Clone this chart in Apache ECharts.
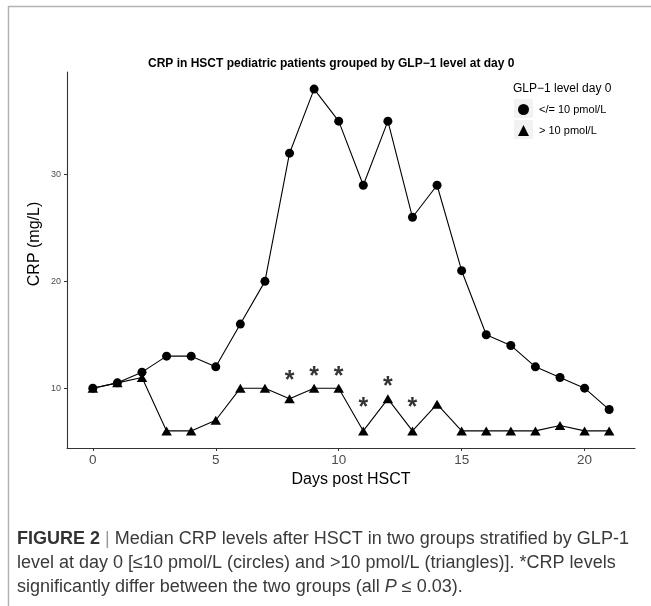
<!DOCTYPE html>
<html>
<head>
<meta charset="utf-8">
<script src="https://cdn.jsdelivr.net/npm/echarts@6/dist/echarts.min.js"></script>
<style>
html, body { margin: 0; padding: 0; background: #fff; }
#main { width: 651px; height: 606px; }
</style>
</head>
<body>
<div id="main"></div>
<script>
// data
var days = [0, 1, 2, 3, 4, 5, 6, 7, 8, 9, 10, 11, 12, 13, 14, 15, 16, 17, 18, 19, 20, 21];
var crpLow = [10, 10.5, 11.5, 13, 13, 12, 16, 20, 32, 38, 35, 29, 35, 26, 29, 21, 15, 14, 12, 11, 10, 8];
var crpHigh = [10, 10.5, 11, 6, 6, 7, 10, 10, 9, 10, 10, 6, 9, 6, 8.5, 6, 6, 6, 6, 6.5, 6, 6];
var starDays = [8, 9, 10, 11, 12, 13];
var starLevels = [11.1, 11.5, 11.5, 8.6, 10.55, 8.6];
var xTicks = [0, 5, 10, 15, 20];
var yTicks = [10, 20, 30];
var groupNames = ['</= 10 pmol/L', '> 10 pmol/L'];

var font = 'Liberation Sans, Arial, sans-serif';
var capSize = 18;

function pairs(xs, ys) {
    return xs.map(function (x, i) { return [x, ys[i]]; });
}

var dom = document.getElementById('main');
var myChart = echarts.init(dom);
var option = {
    animation: false,
    backgroundColor: '#fff',
    textStyle: { fontFamily: font },
    title: {
        text: 'CRP in HSCT pediatric patients grouped by GLP\u22121 level at day 0',
        left: 143,
        top: 53,
        textStyle: { fontSize: 12, fontWeight: 'bold', color: '#000', fontFamily: font }
    },
    grid: { left: 67, right: 16, top: 72, bottom: 158 },
    legend: {
        orient: 'vertical',
        left: 513,
        top: 99,
        itemWidth: 11,
        itemHeight: 11,
        itemGap: 10,
        data: [
            { name: groupNames[0], icon: 'circle' },
            { name: groupNames[1], icon: 'triangle' }
        ],
        textStyle: { fontSize: 11, color: '#000', lineHeight: 11, padding: [0, 0, 0, 5] }
    },
    xAxis: {
        type: 'value',
        min: -1.05,
        max: 22.05,
        name: 'Days post HSCT',
        nameLocation: 'middle',
        nameGap: 20,
        nameTextStyle: { fontSize: 16, color: '#000' },
        axisLine: { onZero: false, lineStyle: { color: '#333', width: 1.1 } },
        axisTick: { customValues: xTicks, length: 3, lineStyle: { color: '#333' } },
        axisLabel: { customValues: xTicks, fontSize: 13.5, color: '#4d4d4d', margin: 5 },
        splitLine: { show: false }
    },
    yAxis: {
        type: 'value',
        min: 4.4,
        max: 39.6,
        axisLine: { show: true, onZero: false, lineStyle: { color: '#333', width: 1.1 } },
        axisTick: { show: true, customValues: yTicks, length: 3, lineStyle: { color: '#333' } },
        axisLabel: { customValues: yTicks, fontSize: 9, color: '#4d4d4d', margin: 6 },
        splitLine: { show: false }
    },
    series: [
        {
            name: groupNames[0],
            type: 'line',
            data: pairs(days, crpLow),
            symbol: 'circle',
            symbolSize: 9,
            showAllSymbol: true,
            itemStyle: { color: '#000' },
            lineStyle: { color: '#000', width: 1.1 }
        },
        {
            name: groupNames[1],
            type: 'line',
            data: pairs(days, crpHigh),
            symbol: 'triangle',
            symbolSize: [10.5, 9],
            showAllSymbol: true,
            itemStyle: { color: '#000' },
            lineStyle: { color: '#000', width: 1.1 }
        },
        {
            name: 'significant',
            type: 'scatter',
            data: pairs(starDays, starLevels),
            symbolSize: 1,
            itemStyle: { color: 'rgba(0,0,0,0)' },
            label: {
                show: true,
                position: 'inside',
                formatter: '*',
                fontSize: 25,
                fontWeight: 'bold',
                color: '#000',
                offset: [0, 5]
            }
        }
    ],
    graphic: [
        // figure frame
        { type: 'line', shape: { x1: 8.5, y1: 6, x2: 8.5, y2: 606 }, style: { stroke: '#b3b3b3', lineWidth: 1.5 } },
        { type: 'line', shape: { x1: 8, y1: 6.5, x2: 651, y2: 6.5 }, style: { stroke: '#b3b3b3', lineWidth: 1.5 } },
        // y axis title
        {
            type: 'text', x: 35, y: 244, rotation: Math.PI / 2,
            style: { text: 'CRP (mg/L)', fontSize: 16, fontFamily: font, fill: '#000', align: 'center', verticalAlign: 'middle' }
        },
        // legend title and key boxes
        {
            type: 'text', x: 513, y: 89,
            style: { text: 'GLP\u22121 level day 0', fontSize: 12, fontFamily: font, fill: '#000', verticalAlign: 'middle' }
        },
        { type: 'rect', z: -1, shape: { x: 514, y: 99, width: 19, height: 19 }, style: { fill: '#f2f2f2' } },
        { type: 'rect', z: -1, shape: { x: 514, y: 120, width: 19, height: 19 }, style: { fill: '#f2f2f2' } },
        // caption
        {
            type: 'text', x: 17, y: 539,
            style: {
                text: '{b|FIGURE 2} {p||} Median CRP levels after HSCT in two groups stratified by GLP-1',
                fontSize: capSize, fontFamily: font, fill: '#3a3a3a', verticalAlign: 'middle',
                rich: {
                    b: { fontSize: capSize, fontWeight: 'bold', fill: '#333', fontFamily: font },
                    p: { fontSize: capSize, fill: '#999', fontFamily: font }
                }
            }
        },
        {
            type: 'text', x: 17, y: 563,
            style: {
                text: 'level at day 0 [\u226410 pmol/L (circles) and >10 pmol/L (triangles)]. *CRP levels',
                fontSize: capSize, fontFamily: font, fill: '#3a3a3a', verticalAlign: 'middle'
            }
        },
        {
            type: 'text', x: 17, y: 587,
            style: {
                text: 'significantly differ between the two groups (all {i|P} \u2264 0.03).',
                fontSize: capSize, fontFamily: font, fill: '#3a3a3a', verticalAlign: 'middle',
                rich: {
                    i: { fontSize: capSize, fontStyle: 'italic', fill: '#3a3a3a', fontFamily: font }
                }
            }
        }
    ]
};

if (option && typeof option === 'object') {
    myChart.setOption(option, true);
}
</script>
</body>
</html>
